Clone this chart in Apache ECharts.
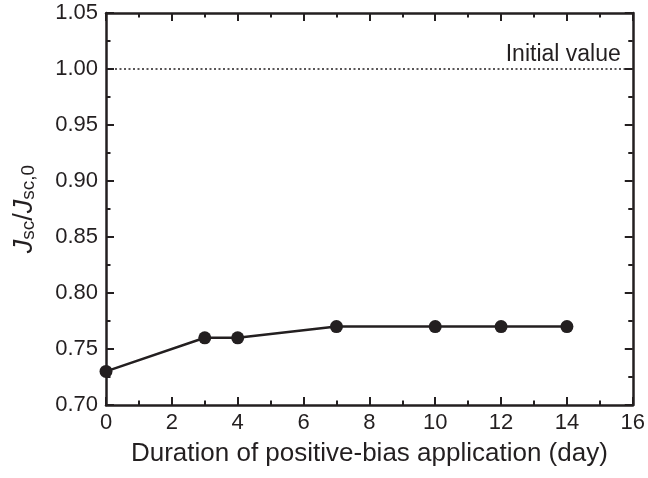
<!DOCTYPE html>
<html>
<head>
<meta charset="utf-8">
<script src="https://cdn.jsdelivr.net/npm/echarts@6/dist/echarts.min.js"></script>
<style>html,body{margin:0;padding:0;background:#fff}#c{width:648px;height:478px}</style>
</head>
<body>
<div id="c"></div>
<script>
var days = [0, 3, 4, 7, 10, 12, 14];
var ratio = [0.73, 0.76, 0.76, 0.77, 0.77, 0.77, 0.77];
var initialValue = 1.0;
var xRange = [0, 16];
var yRange = [0.70, 1.05];

var ink = '#231f20';
var font = "'Liberation Sans', Arial, Helvetica, sans-serif";
var chart = echarts.init(document.getElementById('c'));

function axisBase(extra) {
  var a = {
    axisLine: {show: true, onZero: false, lineStyle: {color: ink, width: 2.5}},
    axisTick: {show: true, inside: true, length: 8, lineStyle: {color: ink, width: 2}},
    minorTick: {show: true, splitNumber: 2, length: 4.5, lineStyle: {color: ink, width: 2}},
    splitLine: {show: false},
    axisLabel: {color: ink, fontSize: 22, fontFamily: font}
  };
  for (var k in extra) a[k] = extra[k];
  return a;
}

chart.setOption({
  animation: false,
  backgroundColor: '#fff',
  grid: {left: 106, right: 13, top: 13, bottom: 73},
  xAxis: [
    axisBase({type: 'value', min: xRange[0], max: xRange[1], interval: 2, position: 'bottom',
      name: 'Duration of positive-bias application (day)', nameLocation: 'middle', nameGap: 36,
      nameTextStyle: {color: ink, fontSize: 26, fontFamily: font},
      axisLabel: {color: ink, fontSize: 22, fontFamily: font, margin: 7}}),
    axisBase({type: 'value', min: xRange[0], max: xRange[1], interval: 2, position: 'top',
      axisLabel: {show: false}})
  ],
  yAxis: [
    axisBase({type: 'value', min: yRange[0], max: yRange[1], interval: 0.05, position: 'left',
      name: '{i|J}{s|sc}{n|/}{i|J}{s|sc,0}', nameLocation: 'middle', nameGap: 68, nameRotate: 90,
      nameTextStyle: {color: ink, fontFamily: font, rich: {
        i: {fontSize: 27, fontStyle: 'italic', fontFamily: font, color: ink, verticalAlign: 'bottom', lineHeight: 30},
        n: {fontSize: 27, fontFamily: font, color: ink, verticalAlign: 'bottom', lineHeight: 30},
        s: {fontSize: 19, fontFamily: font, color: ink, verticalAlign: 'bottom', lineHeight: 20}
      }},
      axisLabel: {color: ink, fontSize: 22, fontFamily: font, margin: 8,
        formatter: function (v) { return v.toFixed(2); }}}),
    axisBase({type: 'value', min: yRange[0], max: yRange[1], interval: 0.05, position: 'right',
      axisLabel: {show: false}})
  ],
  series: [
    {
      type: 'line',
      data: [[xRange[0], initialValue], [xRange[1], initialValue]],
      symbol: 'none',
      lineStyle: {color: ink, width: 1.5, type: [2, 2.5]},
      silent: true,
      markPoint: {
        symbol: 'rect', symbolSize: 0,
        data: [{coord: [xRange[1], initialValue],
          label: {show: true, formatter: 'Initial value', position: 'insideTopRight', color: ink,
            fontSize: 23, fontFamily: font, align: 'right', verticalAlign: 'bottom', offset: [-7, -8]}}]
      }
    },
    {
      type: 'line',
      data: days.map(function (d, i) { return [d, ratio[i]]; }),
      symbol: 'circle',
      symbolSize: 13,
      itemStyle: {color: ink},
      lineStyle: {color: ink, width: 2.5},
      z: 5
    }
  ]
});
</script>
</body>
</html>
